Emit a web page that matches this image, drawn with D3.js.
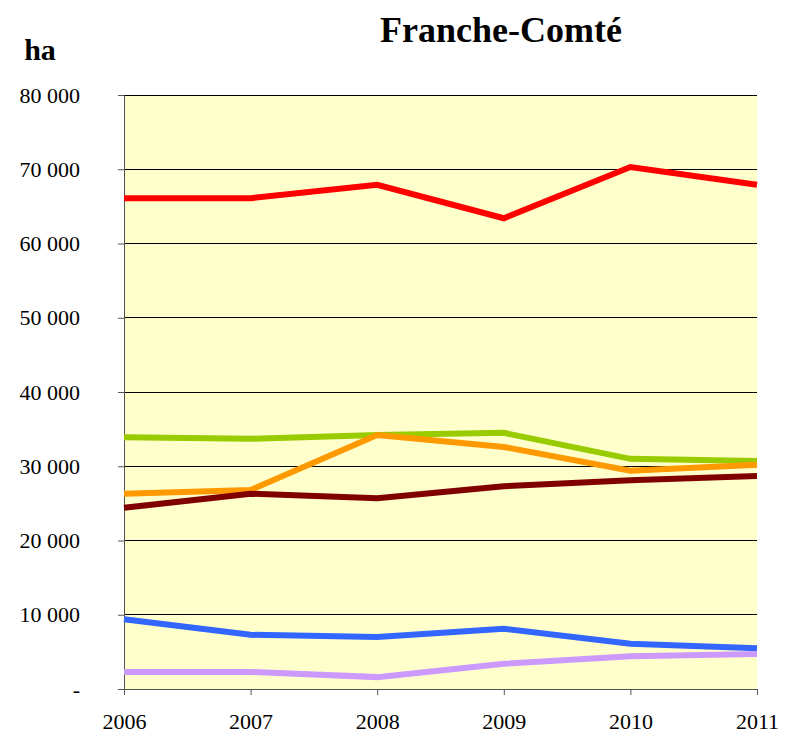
<!DOCTYPE html>
<html>
<head>
<meta charset="utf-8">
<script src="https://cdn.jsdelivr.net/npm/d3@7"></script>
<style>
  body { margin: 0; background: #fff; }
  text { font-family: "Liberation Serif", "DejaVu Serif", serif; }
</style>
</head>
<body>
<svg id="chart" width="787" height="734"></svg>
<script>
const years = ['2006', '2007', '2008', '2009', '2010', '2011'];
const yTicks = [0, 10000, 20000, 30000, 40000, 50000, 60000, 70000, 80000];

const red = [66100, 66100, 67900, 63400, 70300, 67900];
const green = [33900, 33700, 34200, 34500, 31000, 30700];
const orange = [26300, 26800, 34200, 32600, 29400, 30200];
const darkRed = [24400, 26300, 25700, 27300, 28100, 28700];
const blue = [9400, 7300, 7000, 8100, 6100, 5500];
const purple = [2300, 2300, 1600, 3400, 4400, 4700];

const series = [
  { values: red, color: '#ff0000' },
  { values: green, color: '#99cc00' },
  { values: orange, color: '#ff9900' },
  { values: darkRed, color: '#800000' },
  { values: blue, color: '#3366ff' },
  { values: purple, color: '#cc99ff' },
];

const svg = d3.select('#chart');
const margin = { left: 124, right: 30, top: 95, bottom: 45 };
const width = 787 - margin.left - margin.right;
const height = 734 - margin.top - margin.bottom;

const x = d3.scalePoint().domain(years).range([0, width]);
const y = d3.scaleLinear().domain([0, 80000]).range([height, 0]);

const g = svg.append('g')
  .attr('transform', `translate(${margin.left},${margin.top})`);

g.append('rect')
  .attr('width', width)
  .attr('height', height)
  .attr('fill', '#ffffcc');

// gridlines
g.append('g')
  .selectAll('line')
  .data(yTicks.filter(d => d > 0))
  .enter()
  .append('line')
  .attr('x1', 0)
  .attr('x2', width)
  .attr('y1', d => y(d))
  .attr('y2', d => y(d))
  .attr('stroke', '#000')
  .attr('stroke-width', 1)
  .attr('shape-rendering', 'crispEdges');

const fmt = d => d === 0 ? '-' : d3.format(',')(d).replace(',', ' ');

const yAxis = g.append('g')
  .call(d3.axisLeft(y).tickValues(yTicks).tickSize(6).tickPadding(38).tickFormat(fmt));
yAxis.select('.domain').attr('stroke', '#555');
yAxis.selectAll('.tick line').attr('stroke', '#555');
yAxis.selectAll('text').attr('font-size', 22).attr('fill', '#000');

const xAxis = g.append('g')
  .attr('transform', `translate(0,${height})`)
  .call(d3.axisBottom(x).tickSize(6).tickPadding(18));
xAxis.select('.domain').attr('stroke', '#555');
xAxis.selectAll('.tick line').attr('stroke', '#555');
xAxis.selectAll('text').attr('font-size', 22).attr('fill', '#000');

const line = d3.line()
  .x((d, i) => x(years[i]))
  .y(d => y(d));

g.append('g')
  .selectAll('path')
  .data(series)
  .enter()
  .append('path')
  .attr('d', d => line(d.values))
  .attr('fill', 'none')
  .attr('stroke', d => d.color)
  .attr('stroke-width', 6)
  .attr('stroke-linejoin', 'miter');

svg.append('text')
  .attr('x', 501)
  .attr('y', 42)
  .attr('text-anchor', 'middle')
  .attr('font-size', 36)
  .attr('font-weight', 'bold')
  .text('Franche-Comté');

svg.append('text')
  .attr('x', 40)
  .attr('y', 60)
  .attr('text-anchor', 'middle')
  .attr('font-size', 30)
  .attr('font-weight', 'bold')
  .text('ha');
</script>
</body>
</html>
